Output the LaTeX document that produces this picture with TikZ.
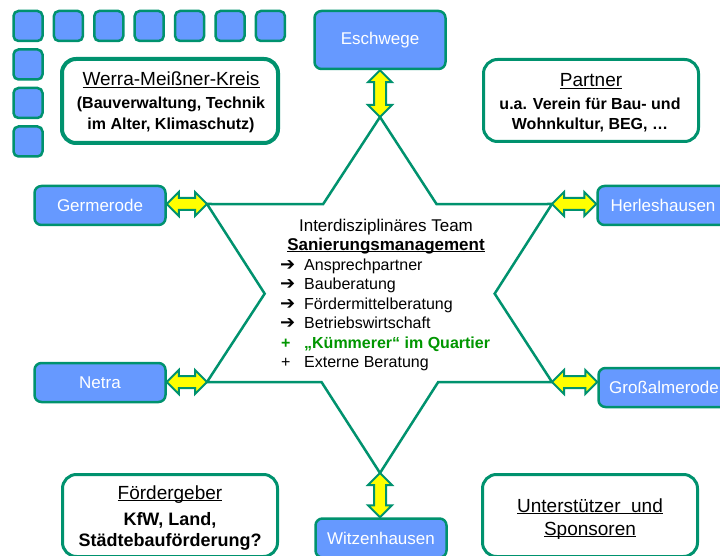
\documentclass[tikz,border=0pt]{standalone}
\usepackage{fontspec}
\setmainfont{Liberation Sans}
\newfontfamily\pfeilfont{DejaVu Sans}
\usetikzlibrary{calc}
\definecolor{rahmen}{RGB}{0,146,110}
\definecolor{ortblau}{RGB}{102,153,255}
\definecolor{gelb}{RGB}{255,255,0}
\definecolor{gruen}{RGB}{0,150,0}
\tikzstyle{ort} = [rectangle, rounded corners=7pt, minimum width=131pt, minimum height=39pt, text centered, draw=rahmen, line width=2.5pt, fill=ortblau, text=white, font=\fontsize{17}{20}\selectfont]
\tikzstyle{akteur} = [rectangle, rounded corners=14pt, minimum width=215pt, minimum height=82pt, draw=rahmen, line width=3pt, fill=white]
\tikzstyle{kachel} = [rectangle, rounded corners=5pt, minimum width=29pt, minimum height=30pt, draw=rahmen, line width=2.5pt, fill=ortblau]
\tikzstyle{pfeil} = [draw=rahmen, line width=2pt, fill=gelb, line join=miter]
\tikzstyle{stern} = [draw=rahmen, line width=2.5pt, fill=white, line join=miter]
\tikzstyle{titel} = [anchor=base, inner sep=0pt, font=\fontsize{19}{22}\selectfont]
\tikzstyle{koerper} = [anchor=base, inner sep=0pt, font=\bfseries\fontsize{16}{20}\selectfont]
\tikzstyle{liste} = [anchor=base west, inner sep=0pt, font=\fontsize{16}{19}\selectfont]
\newcommand{\unterstr}[1]{\setbox0\hbox{#1}\rlap{\rule[-2.2pt]{\wd0}{1.2pt}}\box0}
\newcommand{\punkt}[1]{\makebox[24pt][l]{#1}}
\newcommand{\dick}{{\pfeilfont\fontsize{18}{19}\selectfont ➔}}
\newcommand{\doppelpfeil}[2]{%
  \draw[pfeil] (#1)
    -- ($(#1)!12pt!(#2)!12pt!90:(#2)$)
    -- ($(#1)!12pt!(#2)!6pt!90:(#2)$)
    -- ($(#2)!12pt!(#1)!6pt!-90:(#1)$)
    -- ($(#2)!12pt!(#1)!12pt!-90:(#1)$)
    -- (#2)
    -- ($(#2)!12pt!(#1)!12pt!90:(#1)$)
    -- ($(#2)!12pt!(#1)!6pt!90:(#1)$)
    -- ($(#1)!12pt!(#2)!6pt!-90:(#2)$)
    -- ($(#1)!12pt!(#2)!12pt!-90:(#2)$)
    -- cycle;}
\begin{document}
\begin{tikzpicture}[x=1pt,y=-1pt]
\useasboundingbox (0,0) rectangle (720,556);
\clip (0,0) rectangle (720,556);
% Kacheln oben links
\foreach \i in {0,...,6}
  \node[kachel] (k\i) at (28+40.4*\i,26) {};
\foreach \j in {1,2,3}
  \node[kachel] (l\j) at (28,26+38.5*\j) {};
% Akteure
\node at (170,101) [akteur, line width=4pt, minimum width=216pt, minimum height=84pt] (werra) {};
\node at (591,100.5) [akteur] (partner) {};
\node at (170,515.5) [akteur] (foerder) {};
\node at (590,515.5) [akteur] (unterst) {};
% Stern
\coordinate (T) at (380,117);
\coordinate (UR) at (552,204);
\coordinate (LR) at (552,382);
\coordinate (B) at (380,473);
\coordinate (LL) at (207,382);
\coordinate (UL) at (207,204);
\coordinate (i1) at (intersection of T--LR and UL--UR);
\coordinate (i2) at (intersection of UR--B and T--LR);
\coordinate (i3) at (intersection of UR--B and LL--LR);
\coordinate (i4) at (intersection of UL--B and LL--LR);
\coordinate (i5) at (intersection of UL--B and T--LL);
\coordinate (i6) at (intersection of T--LL and UL--UR);
\draw[stern] (T) -- (i1) -- (UR) -- (i2) -- (LR) -- (i3) -- (B) -- (i4) -- (LL) -- (i5) -- (UL) -- (i6) -- cycle;
% Orte
\node at (380,40) [ort, minimum height=58pt] (eschwege) {Eschwege};
\node at (100,205.5) [ort] (germerode) {Germerode};
\node at (100,382.5) [ort] (netra) {Netra};
\node at (663,205.5) [ort] (herleshausen) {Herleshausen};
\node at (664,387.5) [ort] (grossalmerode) {Großalmerode};
\node at (381,538) [ort] (witzenhausen) {Witzenhausen};
\coordinate (gA) at (germerode.east |- UL);
\coordinate (nA) at (netra.east |- LL);
\coordinate (hA) at (herleshausen.west |- UR);
\coordinate (gaA) at (grossalmerode.west |- LR);
\coordinate (eA) at (eschwege.south -| T);
\coordinate (wA) at (witzenhausen.north -| B);
\doppelpfeil{eA}{T}
\doppelpfeil{gA}{UL}
\doppelpfeil{nA}{LL}
\doppelpfeil{UR}{hA}
\doppelpfeil{LR}{gaA}
\doppelpfeil{B}{wA}
% Texte
\node[titel] (werra1) at (171,86) {\unterstr{Werra-Meißner-Kreis}};
\node[koerper] (werra2) at (171,108.5) {(Bauverwaltung, Technik};
\node[koerper] (werra3) at (171,129.5) {im Alter, Klimaschutz)};
\node[titel] (partner1) at (591,87) {\unterstr{Partner}};
\node[koerper] (partner2) at (590,110) {u.a. Verein für Bau- und};
\node[koerper] (partner3) at (590,130) {Wohnkultur, BEG, …};
\node[titel] (foerder1) at (170,499) {\unterstr{Fördergeber}};
\node[koerper, font=\bfseries\fontsize{18}{21}\selectfont] (foerder2) at (170,525) {KfW, Land,};
\node[koerper, font=\bfseries\fontsize{18}{21}\selectfont] (foerder3) at (170,546) {Städtebauförderung?};
\node[titel] (unterst1) at (590,512) {\unterstr{Unterstützer\ \ und}};
\node[titel] (unterst2) at (590,535) {\unterstr{Sponsoren}};
\node[titel, font=\fontsize{17}{20}\selectfont] (team1) at (386,231) {Interdisziplinäres Team};
\node[titel, font=\bfseries\fontsize{17}{20}\selectfont] (team2) at (386,250) {\unterstr{Sanierungsmanagement}};
\node[liste] (a1) at (280,270.5) {\punkt{\dick}Ansprechpartner};
\node[liste] (a2) at (280,289.9) {\punkt{\dick}Bauberatung};
\node[liste] (a3) at (280,309.3) {\punkt{\dick}Fördermittelberatung};
\node[liste] (a4) at (280,328.7) {\punkt{\dick}Betriebswirtschaft};
\node[liste, text=gruen, font=\bfseries\fontsize{16}{19}\selectfont] (a5) at (280,348.1) {\punkt{\hspace{1pt}+}„Kümmerer“ im Quartier};
\node[liste] (a6) at (280,367.5) {\punkt{\hspace{1pt}+}Externe Beratung};
\end{tikzpicture}
\end{document}
